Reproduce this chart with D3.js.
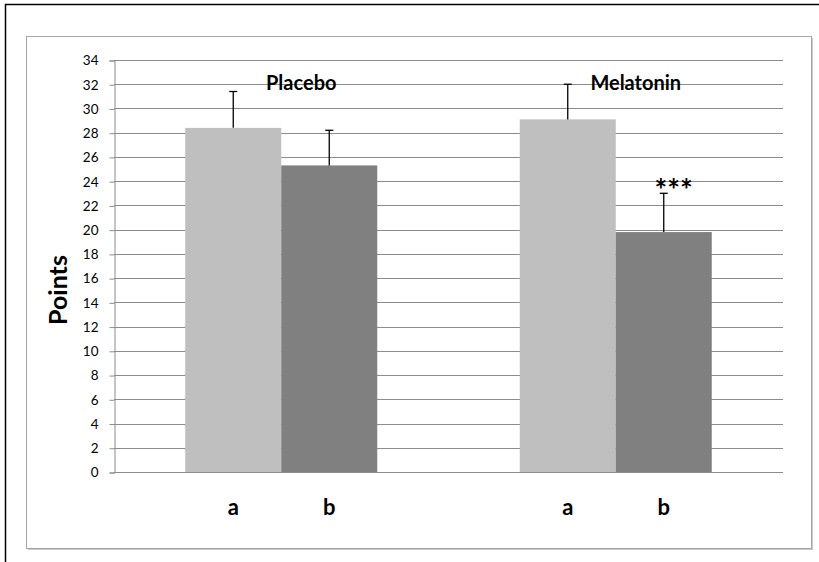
<!DOCTYPE html>
<html lang="en">
<head>
    <meta charset="UTF-8">
    <title>Points</title>
    <script src="https://d3js.org/d3.v7.min.js"></script>
    <style>
        body { margin: 0; background: #fff; }
        text { font-family: Lato, "Open Sans", sans-serif; }
    </style>
</head>
<body>

<script>

    var groups = ['Placebo', 'Melatonin'];
    var subgroups = ['a', 'b'];
    var means = [[28.4, 25.3], [29.1, 19.8]];
    var errors = [[3.0, 2.9], [2.9, 3.2]];
    var marks = [['', ''], ['', '***']];
    var yTicks = d3.range(0, 35, 2);

    var xSize = 819;
    var ySize = 562;

    var svg = d3.select("body")
        .append("svg")
        .attr("width", xSize)
        .attr("height", ySize);

    // outer frame (runs off right/bottom)
    svg.append("rect").attr("x", 5.5).attr("y", 4.5)
        .attr("width", 830).attr("height", 580)
        .attr("fill", "none").attr("stroke", "#000").attr("stroke-width", 1.5);

    // chart area frame with soft shadow
    svg.append("rect").attr("x", 28).attr("y", 38)
        .attr("width", 785).attr("height", 512).attr("fill", "#c8c8c8");
    svg.append("rect").attr("x", 26.5).attr("y", 36.5)
        .attr("width", 785).attr("height", 512)
        .attr("fill", "#fff").attr("stroke", "#a6a6a6");

    var plotLeft = 114, plotRight = 783, plotTop = 60, plotBottom = 472;

    var yScale = d3.scaleLinear().domain([0, 34]).range([plotBottom, plotTop]);
    var xGroup = d3.scaleBand().domain(groups).range([plotLeft, plotRight])
        .paddingInner(0.426).paddingOuter(0.213);
    var xSub = d3.scaleBand().domain(subgroups).range([0, xGroup.bandwidth()]);

    // gridlines
    svg.append("g").selectAll("line").data(yTicks).enter().append("line")
        .attr("x1", plotLeft).attr("x2", plotRight)
        .attr("y1", function (d) { return Math.round(yScale(d)) + 0.5; })
        .attr("y2", function (d) { return Math.round(yScale(d)) + 0.5; })
        .attr("stroke", "#8c8c8c");

    // y axis
    var yAxis = svg.append("g")
        .attr("transform", "translate(" + (plotLeft + 0.5) + ",0.5)")
        .call(d3.axisLeft(yScale).tickValues(yTicks).tickSize(5).tickPadding(11));
    yAxis.select(".domain").attr("stroke", "#8c8c8c");
    yAxis.selectAll(".tick line").attr("stroke", "#8c8c8c");
    yAxis.selectAll(".tick text").attr("font-size", 13.5).attr("fill", "#000")
        .style("font-family", "Lato, 'Open Sans', sans-serif");

    var colors = ['#bfbfbf', '#808080'];

    var flat = [];
    groups.forEach(function (g, i) {
        subgroups.forEach(function (s, j) {
            flat.push({group: g, sub: s, j: j, value: means[i][j], err: errors[i][j], mark: marks[i][j]});
        });
    });

    var bar = svg.append("g").selectAll("g").data(flat).enter().append("g")
        .attr("transform", function (d) { return "translate(" + (xGroup(d.group) + xSub(d.sub)) + ",0)"; });

    bar.append("rect")
        .attr("x", 0)
        .attr("y", function (d) { return yScale(d.value); })
        .attr("width", xSub.bandwidth())
        .attr("height", function (d) { return yScale(0) - yScale(d.value); })
        .attr("fill", function (d) { return colors[d.j]; });

    var cx = xSub.bandwidth() / 2;
    bar.append("line")
        .attr("x1", cx).attr("x2", cx)
        .attr("y1", function (d) { return yScale(d.value); })
        .attr("y2", function (d) { return yScale(d.value + d.err); })
        .attr("stroke", "#000").attr("stroke-width", 1.3);
    bar.append("line")
        .attr("x1", cx - 4).attr("x2", cx + 4)
        .attr("y1", function (d) { return yScale(d.value + d.err); })
        .attr("y2", function (d) { return yScale(d.value + d.err); })
        .attr("stroke", "#000").attr("stroke-width", 1.3);

    bar.append("text")
        .attr("x", cx + 10)
        .attr("y", function (d) { return yScale(d.value + d.err) + 8; })
        .attr("text-anchor", "middle")
        .attr("font-size", 30).attr("font-weight", "bold")
        .text(function (d) { return d.mark; });

    // x labels
    bar.append("text")
        .attr("x", cx).attr("y", 515)
        .attr("text-anchor", "middle")
        .attr("font-size", 22).attr("font-weight", "bold")
        .text(function (d) { return d.sub; });

    // group titles
    svg.append("g").selectAll("text").data(groups).enter().append("text")
        .attr("x", function (d) { return xGroup(d) + xGroup.bandwidth() / 2 + 20; })
        .attr("y", 90)
        .attr("text-anchor", "middle")
        .attr("font-size", 20).attr("font-weight", "bold")
        .text(function (d) { return d; });

    // axis title
    svg.append("text")
        .attr("transform", "translate(67,290) rotate(-90)")
        .attr("text-anchor", "middle")
        .attr("font-size", 25).attr("font-weight", "bold")
        .text("Points");

</script>

</body>
</html>
